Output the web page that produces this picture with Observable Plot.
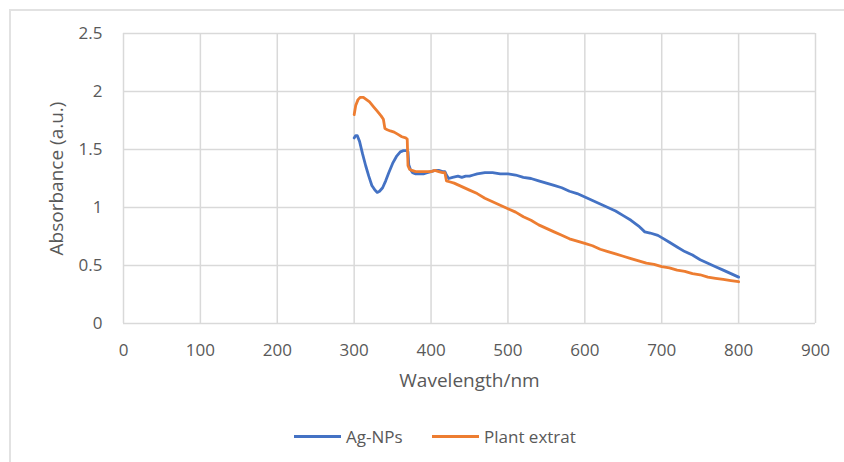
<!DOCTYPE html>
<html>
<head>
<meta charset="utf-8">
<script src="https://cdn.jsdelivr.net/npm/d3@7"></script>
<script src="https://cdn.jsdelivr.net/npm/@observablehq/plot@0.6"></script>
<style>
  html, body { margin: 0; padding: 0; background: #fff; }
  #wrap { position: relative; width: 844px; height: 462px; overflow: hidden; font-family: "Open Sans", sans-serif; }
  #border { position: absolute; left: 9px; top: 9px; width: 900px; height: 500px; border: 2px solid #e2e2e2; }
  #chart { position: absolute; left: 0; top: 0; }
  #legend { position: absolute; left: 0; top: 424px; width: 844px; height: 24px; font-size: 17px; color: #595959; }
  .item { position: absolute; top: 0; display: flex; align-items: center; height: 24px; white-space: nowrap; }
  .swatch { display: inline-block; width: 47px; height: 3px; margin-right: 5px; }
</style>
</head>
<body>
<div id="wrap">
  <div id="border"></div>
  <div id="chart"></div>
  <div id="legend"></div>
</div>
<script>
// ---- data ----
const seriesNames = ["Ag-NPs", "Plant extrat"];
const seriesColors = ["#4472C4", "#ED7D31"];

const agWavelength = [300, 302, 304, 307, 311, 315, 319, 323, 327, 330, 333, 337, 341, 345, 350, 355, 360, 364, 368, 370,
  371, 373, 376, 380, 385, 390, 395, 400, 405, 410, 415, 418, 420, 423, 428, 435, 440, 445, 450, 455, 460, 470, 480, 490,
  500, 510, 520, 530, 540, 550, 560, 570, 580, 590, 600, 610, 620, 630, 640, 650, 660, 670, 678, 685, 695, 700, 710, 720,
  730, 740, 750, 760, 770, 780, 790, 800];
const agAbsorbance = [1.60, 1.62, 1.62, 1.57, 1.46, 1.36, 1.27, 1.19, 1.15, 1.13, 1.14, 1.17, 1.23, 1.30, 1.38, 1.44, 1.48, 1.49, 1.49, 1.48,
  1.37, 1.33, 1.30, 1.29, 1.29, 1.29, 1.30, 1.31, 1.32, 1.32, 1.31, 1.31, 1.28, 1.25, 1.26, 1.27, 1.26, 1.27, 1.27, 1.28, 1.29, 1.30, 1.30, 1.29,
  1.29, 1.28, 1.26, 1.25, 1.23, 1.21, 1.19, 1.17, 1.14, 1.12, 1.09, 1.06, 1.03, 1.00, 0.97, 0.93, 0.89, 0.84, 0.79, 0.78, 0.76, 0.74, 0.70, 0.66,
  0.62, 0.59, 0.55, 0.52, 0.49, 0.46, 0.43, 0.40];

const plantWavelength = [300, 302, 305, 308, 312, 316, 320, 325, 330, 335, 338, 340, 343, 347, 352, 357, 362, 367, 369, 370,
  372, 375, 380, 390, 400, 405, 410, 415, 418, 420, 425, 430, 440, 450, 460, 470, 480, 490, 500, 510, 520, 530, 540, 550,
  560, 570, 580, 590, 600, 610, 620, 630, 640, 650, 660, 670, 680, 690, 700, 710, 720, 730, 740, 750, 760, 770, 780, 790, 800];
const plantAbsorbance = [1.80, 1.88, 1.93, 1.95, 1.95, 1.93, 1.91, 1.87, 1.83, 1.79, 1.76, 1.68, 1.67, 1.66, 1.65, 1.63, 1.61, 1.60, 1.59, 1.36,
  1.33, 1.32, 1.31, 1.31, 1.31, 1.32, 1.31, 1.30, 1.30, 1.23, 1.22, 1.21, 1.18, 1.15, 1.12, 1.08, 1.05, 1.02, 0.99, 0.96, 0.92, 0.89, 0.85, 0.82,
  0.79, 0.76, 0.73, 0.71, 0.69, 0.67, 0.64, 0.62, 0.60, 0.58, 0.56, 0.54, 0.52, 0.51, 0.49, 0.48, 0.46, 0.45, 0.43, 0.42, 0.40, 0.39, 0.38, 0.37, 0.36];

const xTicks = [0, 100, 200, 300, 400, 500, 600, 700, 800, 900];
const yTicks = [0, 0.5, 1, 1.5, 2, 2.5];
const xTitle = "Wavelength/nm";
const yTitle = "Absorbance (a.u.)";

// ---- build tables ----
const agData = agWavelength.map((w, i) => ({wl: w, abs: agAbsorbance[i], series: seriesNames[0]}));
const plantData = plantWavelength.map((w, i) => ({wl: w, abs: plantAbsorbance[i], series: seriesNames[1]}));

const gridColor = "#d9d9d9";
const textColor = "#595959";

const chart = Plot.plot({
  width: 844,
  height: 400,
  marginLeft: 123,
  marginRight: 29,
  marginTop: 33,
  marginBottom: 77,
  style: {fontFamily: "'Open Sans', sans-serif", fontSize: "17px", color: textColor, background: "transparent", overflow: "visible"},
  x: {domain: [0, 900]},
  y: {domain: [0, 2.5]},
  marks: [
    Plot.gridX(xTicks, {stroke: gridColor, strokeOpacity: 1, strokeWidth: 1.5}),
    Plot.gridY(yTicks, {stroke: gridColor, strokeOpacity: 1, strokeWidth: 1.5}),
    Plot.axisX(xTicks, {tickSize: 0, tickPadding: 20, label: null, tickFormat: d => String(d), fill: textColor}),
    Plot.axisY(yTicks, {tickSize: 0, tickPadding: 21, label: null, tickFormat: d => String(d), fill: textColor}),
    Plot.line(agData, {x: "wl", y: "abs", stroke: seriesColors[0], strokeWidth: 2.8, curve: "linear"}),
    Plot.line(plantData, {x: "wl", y: "abs", stroke: seriesColors[1], strokeWidth: 2.8, curve: "linear"}),
    Plot.text([xTitle], {frameAnchor: "bottom", dy: 57, lineAnchor: "middle", fill: textColor, fontSize: 19}),
    Plot.text([yTitle], {frameAnchor: "left", dx: -67, rotate: -90, lineAnchor: "middle", textAnchor: "middle", fill: textColor, fontSize: 19})
  ]
});
document.getElementById("chart").appendChild(chart);

// ---- legend ----
const legendLefts = [294, 432];
const legend = document.getElementById("legend");
seriesNames.forEach((name, i) => {
  const item = document.createElement("div");
  item.className = "item";
  item.style.left = legendLefts[i] + "px";
  const sw = document.createElement("span");
  sw.className = "swatch";
  sw.style.background = seriesColors[i];
  const label = document.createElement("span");
  label.textContent = name;
  item.appendChild(sw);
  item.appendChild(label);
  legend.appendChild(item);
});
</script>
</body>
</html>
